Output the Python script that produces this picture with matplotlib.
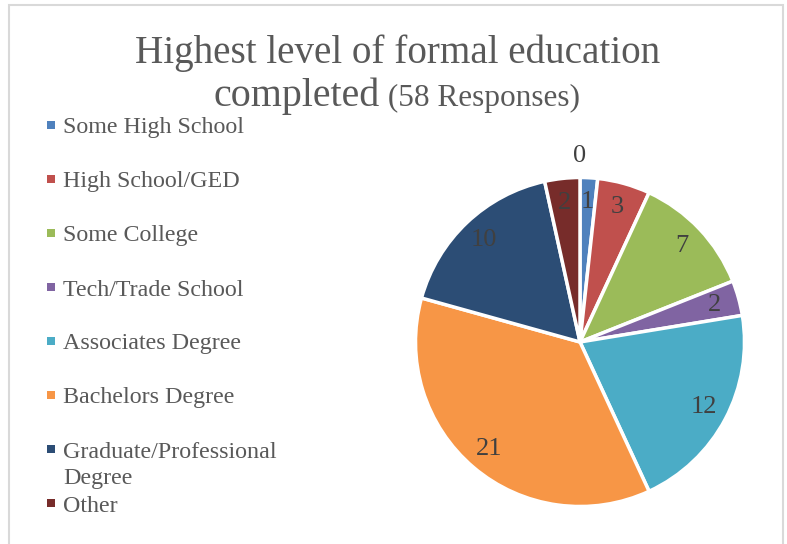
import matplotlib
matplotlib.use("Agg")
import matplotlib.pyplot as plt
from matplotlib.patches import Rectangle
import numpy as np

categories = ["", "Some High School", "High School/GED", "Some College", "Tech/Trade School",
              "Associates Degree", "Bachelors Degree", "Graduate/Professional\nDegree", "Other"]
values = [0, 1, 3, 7, 2, 12, 21, 10, 2]
colors = ["#4F81BD", "#4F81BD", "#C0504D", "#9BBB59", "#8064A2", "#4BACC6", "#F79646", "#2C4D75", "#772C2A"]
title_main = "Highest level of formal education"
title_line2 = "completed"
title_sub = "(58 Responses)"

FONT = "Liberation Serif"
W, H = 787, 544
fig = plt.figure(figsize=(W / 100, H / 100), dpi=100)
fig.patch.set_facecolor("white")

# chart border
fig.add_artist(Rectangle((9 / W, -0.01), (783 - 9) / W, (H - 5) / H + 0.01, transform=fig.transFigure,
                         fill=False, edgecolor="#D9D9D9", linewidth=1.5))

# pie
cx, cy, r = 580, 342, 164.5
ax = fig.add_axes([(cx - r) / W, (H - cy - r) / H, 2 * r / W, 2 * r / H])
wedges, _ = ax.pie(values, colors=colors, startangle=90, counterclock=False, radius=1,
                   wedgeprops=dict(edgecolor="white", linewidth=2.5))
ax.set_xlim(-1, 1)
ax.set_ylim(-1, 1)
ax.set_aspect("equal")
ax.axis("off")

total = sum(values)
cum = 0
for v in values:
    mid = (cum + v / 2) / total * 360
    rad = 1.13 if v == 0 else 0.85
    ang = np.deg2rad(90 - mid)
    ax.text(rad * np.cos(ang), rad * np.sin(ang), str(v), ha="center", va="center",
            fontsize=19, color="#404040", family=FONT)
    cum += v

# title
fig.text(398 / W, 1 - 63 / H, title_main, ha="center", va="baseline", fontsize=28.2,
         color="#595959", family=FONT)
renderer = fig.canvas.get_renderer()
t1 = fig.text(0, 1 - 106 / H, title_line2, ha="left", va="baseline", fontsize=28.8,
              color="#595959", family=FONT)
t2 = fig.text(0, 1 - 106 / H, " " + title_sub, ha="left", va="baseline", fontsize=22.5,
              color="#595959", family=FONT)
w1 = t1.get_window_extent(renderer).width
w2 = t2.get_window_extent(renderer).width
x0 = 397 - (w1 + w2) / 2
t1.set_x(x0 / W)
t2.set_x((x0 + w1) / W)

# legend
leg_y = [125, 179, 233, 287, 341, 395, 462.5, 503]
for lab, col, y in zip(categories[1:], colors[1:], leg_y):
    lines = lab.split("\n")
    ymark = y if len(lines) == 1 else y - 13.5
    fig.add_artist(Rectangle((47 / W, 1 - (ymark + 4) / H), 8 / W, 8 / H, transform=fig.transFigure,
                             facecolor=col, edgecolor="none"))
    fig.text(63 / W, 1 - (y + 3) / H, lab, ha="left", va="center", fontsize=17.3, color="#595959",
             family=FONT, linespacing=1.35)

fig.savefig("out.png", dpi=100)
